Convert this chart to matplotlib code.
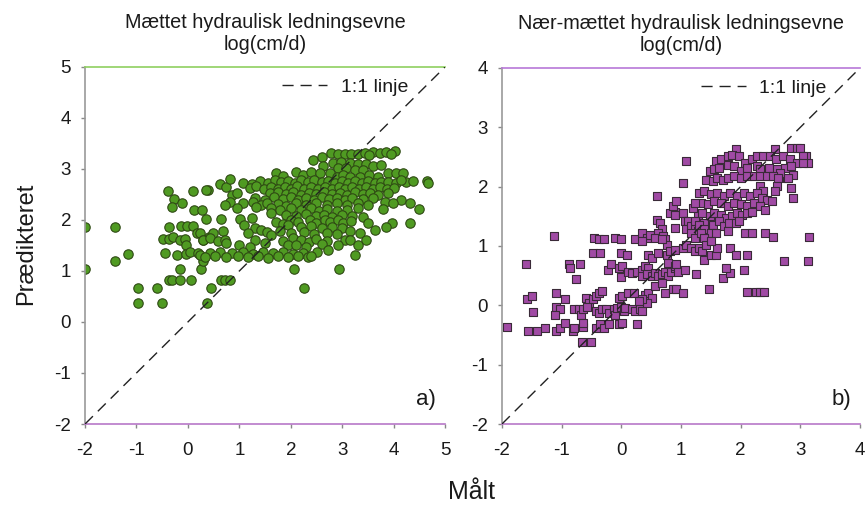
import matplotlib
matplotlib.use("Agg")
import matplotlib.pyplot as plt

plt.rcParams['font.family'] = ['Liberation Sans', 'DejaVu Sans']
plt.rcParams['axes.unicode_minus'] = False

# ---------------- Data: panel a) Mættet hydraulisk ledningsevne ----------------
a_sparse = [
    (-2.0, 1.87), (-2.0, 1.03), (-1.41, 1.87), (-1.41, 1.2), (-1.17, 1.33),
    (-0.97, 0.66), (-0.97, 0.37), (-0.61, 0.66), (-0.5, 0.37), (0.37, 0.37), (0.44, 0.66),
    (-0.37, 0.83), (-0.3, 0.83), (-0.16, 0.83), (0.06, 0.83), (0.65, 0.83), (0.73, 0.83), (0.81, 0.83),
    (-0.16, 1.03), (0.25, 1.03), (2.07, 1.03), (2.93, 1.03), (2.25, 0.66),
    (-0.38, 2.57), (0.1, 2.57), (0.39, 2.58), (-0.27, 2.41), (-0.3, 2.25), (-0.11, 2.33),
    (0.12, 2.2), (0.27, 2.2), (0.36, 2.01), (0.65, 2.01),
    (-0.37, 1.86), (-0.13, 1.88), (-0.02, 1.88), (0.1, 1.88),
    (-0.48, 1.62), (-0.37, 1.62), (-0.29, 1.67), (-0.16, 1.6), (-0.06, 1.62), (-0.03, 1.51),
    (-0.45, 1.36), (-0.22, 1.31), (-0.03, 1.33), (0.04, 1.37), (0.19, 1.35), (0.29, 1.2),
    (0.17, 1.74), (0.23, 1.74), (0.3, 1.6), (0.42, 1.67), (0.49, 1.74),
    (0.62, 2.7), (0.75, 2.65), (0.81, 2.81), (0.36, 2.59),
]
a_dense = [
    (2.79, 3.31), (2.92, 3.29), (3.05, 3.3), (3.18, 3.29), (3.31, 3.3), (3.44, 3.32), (3.6, 3.33),
    (3.73, 3.32), (3.86, 3.33), (4.02, 3.36), (3.52, 3.28), (3.95, 3.3),
    (2.43, 3.18), (2.6, 3.23), (2.63, 3.06),
    (2.82, 3.11), (2.98, 3.14), (3.15, 3.11), (3.31, 3.1), (3.47, 3.1), (2.92, 3.01), (3.08, 3.01),
    (3.24, 2.98), (3.4, 2.98), (3.6, 3.05), (3.75, 3.08),
    (1.71, 2.93), (1.85, 2.86), (2.11, 2.95), (2.24, 2.88), (2.4, 2.95), (2.56, 2.92), (2.76, 2.92),
    (2.89, 2.85), (3.02, 2.88), (3.15, 2.85), (3.34, 2.85), (3.53, 2.88), (3.7, 2.85), (3.89, 2.93),
    (4.05, 2.93), (4.18, 2.92),
    (4.25, 2.75), (4.38, 2.77), (4.65, 2.77), (4.66, 2.72),
    (1.07, 2.73), (1.25, 2.7), (1.4, 2.76), (1.55, 2.72), (1.7, 2.78), (1.82, 2.74), (1.95, 2.77),
    (2.08, 2.72), (2.2, 2.78), (2.33, 2.75), (2.46, 2.79), (2.6, 2.74), (2.73, 2.77), (2.86, 2.72),
    (3.0, 2.76), (3.12, 2.73), (3.25, 2.77), (3.38, 2.73), (3.5, 2.76), (3.63, 2.72), (3.76, 2.75),
    (3.9, 2.74), (4.05, 2.73), (4.15, 2.78),
    (1.2, 2.62), (1.33, 2.66), (1.48, 2.6), (1.62, 2.65), (1.75, 2.6), (1.88, 2.64), (2.0, 2.6),
    (2.13, 2.66), (2.26, 2.61), (2.4, 2.65), (2.53, 2.6), (2.66, 2.64), (2.8, 2.6), (2.93, 2.65),
    (3.06, 2.6), (3.2, 2.64), (3.33, 2.6), (3.46, 2.65), (3.6, 2.61), (3.74, 2.64), (3.88, 2.6),
    (4.0, 2.62),
    (1.6, 2.52), (1.75, 2.55), (1.9, 2.5), (2.05, 2.54), (2.2, 2.49), (2.35, 2.53), (2.5, 2.5),
    (2.65, 2.55), (2.8, 2.5), (2.95, 2.53), (3.1, 2.49), (3.25, 2.54), (3.4, 2.5), (3.55, 2.53),
    (3.7, 2.49), (3.9, 2.52),
    (0.85, 2.49), (0.95, 2.52), (1.3, 2.43), (1.5, 2.4), (1.68, 2.45), (1.85, 2.41), (2.0, 2.45),
    (2.15, 2.4), (2.3, 2.44), (2.45, 2.4), (2.6, 2.45), (2.75, 2.41), (2.9, 2.44), (3.05, 2.4),
    (3.2, 2.43), (3.4, 2.41), (3.6, 2.44), (4.15, 2.39),
    (0.82, 2.36), (1.07, 2.33), (1.27, 2.36), (1.43, 2.3), (1.53, 2.33), (1.75, 2.32), (1.9, 2.28),
    (2.1, 2.34), (2.3, 2.3), (2.5, 2.33), (2.7, 2.29), (2.9, 2.33), (3.1, 2.3), (3.3, 2.34),
    (3.5, 2.3), (3.83, 2.36), (3.99, 2.34), (4.31, 2.34),
    (0.72, 2.3), (0.95, 2.23), (1.33, 2.26), (1.62, 2.23), (1.8, 2.2), (2.0, 2.24), (2.2, 2.19),
    (2.4, 2.23), (2.55, 2.18), (2.7, 2.22), (2.9, 2.18), (3.1, 2.2), (3.3, 2.23), (3.8, 2.21),
    (4.49, 2.22),
    (1.62, 2.13), (1.9, 2.1), (2.1, 2.08), (2.3, 2.12), (2.5, 2.07), (2.65, 2.1), (2.8, 2.06),
    (3.0, 2.1), (3.2, 2.08), (3.4, 2.05),
    (1.01, 2.01), (1.24, 2.03), (1.72, 1.97), (1.85, 1.93), (2.0, 2.0), (2.15, 1.96), (2.37, 2.0),
    (2.5, 1.95), (2.66, 2.0), (2.76, 1.96), (2.92, 1.99), (3.02, 1.95), (3.18, 1.98), (3.5, 1.94),
    (3.96, 1.94), (4.31, 1.94),
    (1.95, 1.9), (2.2, 1.86), (2.4, 1.88), (2.6, 1.84), (2.8, 1.87), (3.0, 1.84), (3.63, 1.8),
    (3.86, 1.86), (1.3, 1.85), (1.1, 1.9),
    (0.69, 1.78), (1.17, 1.74), (1.43, 1.8), (1.53, 1.77), (1.62, 1.71), (1.79, 1.79), (2.0, 1.74),
    (2.25, 1.76), (2.45, 1.72), (2.7, 1.75), (2.9, 1.72), (3.15, 1.79), (3.34, 1.75),
    (0.3, 1.61), (0.43, 1.64), (0.59, 1.58), (0.72, 1.61), (1.3, 1.61), (1.5, 1.54), (1.85, 1.58),
    (2.04, 1.64), (2.2, 1.6), (2.35, 1.57), (2.5, 1.62), (2.7, 1.58), (3.05, 1.61), (3.15, 1.61),
    (3.47, 1.61),
    (0.75, 1.54), (1.0, 1.5), (1.2, 1.48), (1.95, 1.51), (2.1, 1.5), (2.3, 1.47), (2.6, 1.52),
    (2.92, 1.51), (3.31, 1.51),
    (0.43, 1.36), (0.62, 1.38), (0.85, 1.35), (1.07, 1.37), (1.27, 1.34), (1.46, 1.38), (1.66, 1.35),
    (1.85, 1.37), (2.04, 1.34), (2.24, 1.36), (2.52, 1.38), (2.72, 1.42),
    (0.23, 1.31), (0.33, 1.28), (0.52, 1.3), (0.75, 1.27), (0.98, 1.3), (1.17, 1.27), (1.37, 1.29),
    (1.56, 1.26), (1.75, 1.29), (1.95, 1.27), (2.14, 1.3), (2.34, 1.27), (2.4, 1.3), (3.24, 1.31),
]

# ---------------- Data: panel b) Nær-mættet hydraulisk ledningsevne ----------------
b_points = [
    (-1.92, -0.37), (-1.6, 0.69), (-1.58, 0.1), (-1.5, 0.15), (-1.48, -0.11),
    (-1.57, -0.44), (-1.42, -0.44), (-1.28, -0.38), (-1.12, 1.17),
    (-1.09, 0.21), (-1.1, -0.02), (-1.03, -0.07), (-1.11, -0.17),
    (-1.1, -0.44), (-1.03, -0.38), (-0.95, -0.3), (-0.94, 0.11),
    (-0.87, 0.69), (-0.86, 0.63), (-0.7, 0.69), (-0.76, 0.45),
    (-0.79, -0.07), (-0.71, -0.07), (-0.68, -0.16), (-0.65, -0.07),
    (-0.81, -0.44), (-0.8, -0.38), (-0.65, -0.37), (-0.65, -0.3),
    (-0.66, -0.61), (-0.5, -0.61),
    (-0.59, 0.13), (-0.54, 0.04), (-0.48, 0.1), (-0.43, 0.15), (-0.37, 0.21), (-0.32, 0.24),
    (-0.46, 1.13), (-0.37, 1.12), (-0.29, 1.11), (-0.48, 0.88), (-0.35, 0.88),
    (-0.57, -0.02), (-0.43, -0.1), (-0.37, -0.13), (-0.32, -0.07),
    (-0.43, -0.38), (-0.35, -0.32), (-0.29, -0.38), (-0.21, -0.32),
    (-0.26, -0.07), (-0.21, -0.13), (-0.12, -0.07), (-0.1, -0.16),
    (-0.23, 0.6), (-0.18, 0.69), (-0.1, 1.13), (-0.01, 1.11), (-0.01, 0.88), (0.1, 0.85),
    (-0.04, 0.63), (0.01, 0.66), (-0.01, 0.47),
    (-0.07, -0.04), (-0.01, -0.02), (0.04, -0.1), (0.07, -0.04), (0.18, -0.07),
    (0.23, -0.1), (0.32, -0.07), (0.34, -0.1),
    (-0.04, -0.32), (0.01, -0.3), (-0.04, 0.12), (0.01, 0.15), (0.12, 0.21), (0.21, 0.21),
    (0.26, -0.31),
    (0.12, 0.57), (0.18, 0.54), (0.26, 0.57), (0.34, 0.6), (0.4, 0.66), (0.45, 0.63),
    (0.23, 1.12), (0.34, 1.22), (0.43, 1.13), (0.48, 1.19), (0.34, 1.08),
    (0.45, 0.85), (0.51, 0.8),
    (0.4, 0.18), (0.45, 0.21), (0.51, 0.13), (0.43, 0.04), (0.34, 0.1), (0.29, 0.07),
    (0.34, 0.49), (0.43, 0.52), (0.51, 0.49), (0.56, 0.54), (0.62, 0.49), (0.68, 0.52),
    (0.73, 0.57), (0.79, 0.49), (0.84, 0.57), (0.9, 0.63),
    (0.56, 0.32), (0.68, 0.38), (0.73, 0.21), (0.87, 0.27), (0.92, 0.27), (1.03, 0.21),
    (0.59, 1.84),
    (0.59, 1.44), (0.65, 1.39), (0.68, 1.28), (0.62, 1.22), (0.7, 1.17), (0.73, 1.11), (0.76, 1.02),
    (0.56, 1.13), (0.68, 1.11),
    (0.62, 0.88), (0.76, 0.85), (0.82, 0.91), (0.9, 0.94),
    (0.79, 0.72), (0.9, 0.66), (0.92, 0.69), (0.95, 0.57), (1.06, 0.6),
    (0.9, 1.3), (0.82, 1.56), (0.9, 1.58), (0.87, 1.67), (0.92, 1.75), (0.9, 1.53),
    (1.03, 1.56), (1.03, 2.06), (1.09, 2.43),
    (1.06, 1.42), (1.12, 1.42), (1.09, 1.28), (1.17, 1.33), (1.23, 1.28), (1.28, 1.25),
    (1.03, 0.97), (1.09, 1.02), (1.17, 0.97), (1.23, 0.91), (1.31, 0.97), (1.36, 0.91),
    (1.39, 0.77), (1.5, 0.85), (1.59, 0.85), (1.61, 0.97),
    (1.25, 0.52), (1.47, 0.27), (1.7, 0.46), (1.83, 0.55),
    (1.75, 0.63), (1.83, 0.97), (1.92, 0.85), (2.05, 0.6), (2.11, 0.85),
    (2.11, 0.22), (2.25, 0.22), (2.33, 0.22), (2.39, 0.22),
    (2.08, 1.22), (2.19, 1.22), (2.41, 1.22), (2.55, 1.16),
    (2.72, 0.74), (3.13, 0.74), (3.15, 1.15),
    (1.92, 2.63), (2.58, 2.63), (2.85, 2.65), (2.94, 2.65), (2.99, 2.65),
    (3.1, 2.51), (3.13, 2.4), (3.05, 2.51),
    (1.59, 2.43), (1.67, 2.46), (1.78, 2.51), (1.86, 2.54), (1.97, 2.51), (2.08, 2.4),
    (2.19, 2.46), (2.27, 2.51), (2.38, 2.51), (2.49, 2.51), (2.6, 2.46), (2.71, 2.51),
    (2.83, 2.46), (2.94, 2.4), (3.05, 2.4),
    (1.48, 2.26), (1.56, 2.29), (1.64, 2.31), (1.78, 2.37), (1.89, 2.34), (2.0, 2.26),
    (2.11, 2.31), (2.27, 2.34), (2.33, 2.29), (2.47, 2.31), (2.61, 2.29), (2.74, 2.31),
    (2.85, 2.34), (2.88, 2.2), (2.77, 2.14), (2.66, 2.23),
    (1.42, 2.12), (1.53, 2.09), (1.61, 2.15), (1.7, 2.12), (1.78, 2.15), (1.89, 2.18),
    (2.0, 2.15), (2.11, 2.18), (2.22, 2.18), (2.33, 2.18), (2.44, 2.18), (2.55, 2.18),
    (2.63, 2.15), (2.8, 2.15),
    (2.33, 2.01), (2.38, 1.92), (2.61, 2.01), (2.58, 1.92), (2.85, 1.98), (2.88, 1.81),
    (1.31, 1.89), (1.39, 1.92), (1.5, 1.87), (1.61, 1.89), (1.72, 1.84), (1.83, 1.89),
    (1.94, 1.84), (2.05, 1.89), (2.16, 1.84), (2.27, 1.89), (2.36, 1.81), (2.44, 1.78), (2.52, 1.75),
    (1.34, 1.72), (1.45, 1.7), (1.56, 1.75), (1.67, 1.72), (1.78, 1.67), (1.89, 1.72),
    (2.0, 1.7), (2.11, 1.67), (2.22, 1.72), (2.33, 1.67), (2.41, 1.61),
    (1.28, 1.53), (1.36, 1.56), (1.48, 1.5), (1.56, 1.56), (1.67, 1.53), (1.75, 1.47),
    (1.86, 1.5), (1.94, 1.56), (2.03, 1.53), (2.11, 1.56), (2.19, 1.58),
    (1.39, 1.39), (1.53, 1.36), (1.64, 1.42), (1.72, 1.33), (1.81, 1.39), (1.92, 1.39), (1.97, 1.42),
    (1.23, 1.42), (1.31, 1.36), (1.39, 1.28), (1.5, 1.22), (1.59, 1.22), (1.78, 1.25),
    (1.17, 1.22), (1.23, 1.13), (1.34, 1.22), (1.39, 1.13), (1.42, 1.02), (1.5, 1.08),
    (1.2, 1.64), (1.23, 1.72),
]

a_x = [p[0] for p in a_sparse + a_dense]
a_y = [p[1] for p in a_sparse + a_dense]
b_x = [p[0] for p in b_points]
b_y = [p[1] for p in b_points]

a_ticks = [-2, -1, 0, 1, 2, 3, 4, 5]
b_ticks = [-2, -1, 0, 1, 2, 3, 4]
titles = ["Mættet hydraulisk ledningsevne\nlog(cm/d)",
          "Nær-mættet hydraulisk ledningsevne\nlog(cm/d)"]
panel_labels = ["a)", "b)"]

# ---------------- Figure ----------------
fig = plt.figure(figsize=(8.65, 5.07), dpi=100)
axA = fig.add_axes([0.0983, 0.1637, 0.4162, 0.7042])
axB = fig.add_axes([0.5803, 0.1637, 0.4139, 0.7022])

txt = '#1a1a1a'

def style(ax, ticks, top_col, bot_col):
    ax.set_xlim(ticks[0], ticks[-1])
    ax.set_ylim(ticks[0], ticks[-1])
    ax.set_xticks(ticks)
    ax.set_yticks(ticks)
    ax.tick_params(direction='out', length=3, width=1, colors='#888888',
                   labelsize=13.5, labelcolor=txt)
    ax.tick_params(axis='x', pad=10)
    ax.tick_params(axis='y', pad=7)
    ax.spines['right'].set_visible(False)
    ax.spines['left'].set_color('#9a9a9a')
    ax.spines['top'].set_color(top_col)
    ax.spines['bottom'].set_color(bot_col)
    for s in ax.spines.values():
        s.set_linewidth(1.2)

style(axA, a_ticks, '#8fd060', '#b878c8')
style(axB, b_ticks, '#b878d8', '#b878c8')

axA.scatter(a_x, a_y, s=46, marker='o', facecolor='#4f9a22', edgecolor='#2f4a14',
            linewidths=0.8, zorder=2)
axB.scatter(b_x, b_y, s=36, marker='s', facecolor='#a04aa4', edgecolor='#3a2a38',
            linewidths=0.8, zorder=2)

for ax, ticks, lab, title, bx in [(axA, a_ticks, panel_labels[0], titles[0], 0.93),
                                  (axB, b_ticks, panel_labels[1], titles[1], 0.94)]:
    ax.plot([ticks[0], ticks[-1]], [ticks[0], ticks[-1]], color='#222222', lw=1.0,
            dashes=(8, 5), zorder=3, label='1:1 linje')
    leg = ax.legend(loc='upper right', bbox_to_anchor=(bx, 1.0), frameon=False,
                    fontsize=14, handlelength=2.3, borderaxespad=0.2, handletextpad=0.7)
    for t in leg.get_texts():
        t.set_color(txt)
    ax.text(0.975, 0.04, lab, transform=ax.transAxes, ha='right', va='bottom',
            fontsize=16, color=txt)
    ax.set_title(title, fontsize=14.3, color=txt, pad=12, linespacing=1.2)

fig.text(0.03, 0.52, 'Prædikteret', rotation=90, ha='center', va='center',
         fontsize=17, color=txt)
fig.text(0.545, 0.03, 'Målt', ha='center', va='center', fontsize=18, color=txt)

fig.savefig('out.png', dpi=100)
